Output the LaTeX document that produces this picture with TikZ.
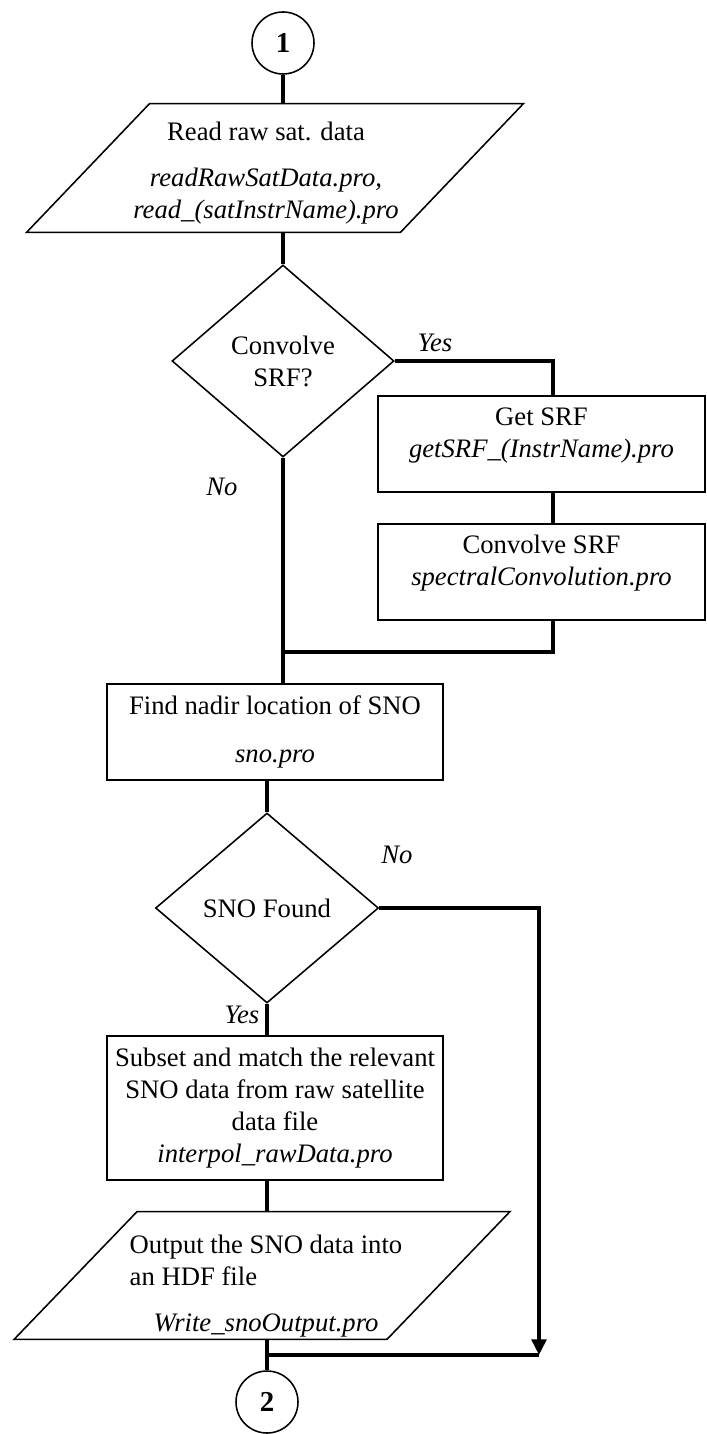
\documentclass[tikz,border=0pt]{standalone}
\usepackage{fontspec}
\setmainfont{Liberation Serif}
\usetikzlibrary{shapes.geometric,arrows.meta}

\begin{document}
\begin{tikzpicture}[x=0.45pt,y=-0.45pt,
        every node/.style={font=\fontsize{12}{14.4}\selectfont},
        conn/.style={draw,line width=1.8pt},
        box/.style={draw,rectangle,line width=0.7pt,align=center},
        iobox/.style={rectangle,inner sep=0pt},
        decide/.style={draw,diamond,aspect=1.17,inner sep=1pt,line width=0.7pt,align=center},
        onpage/.style={draw,circle,minimum size=27.9pt,inner sep=0pt,line width=0.7pt,
            font=\fontsize{13}{15}\selectfont\bfseries},
        lbl/.style={font=\fontsize{12}{14.4}\selectfont\itshape}]
        \useasboundingbox (0,0) rectangle (706,1434);

        \node[onpage] (c1) at (283,43) {1};
        \node[iobox,minimum width=167.85pt,minimum height=57.6pt] (read) at (275,168) {};
        \path[draw,line width=0.7pt] ([xshift=27.7pt]read.north west) -- ([xshift=27.7pt]read.north east)
            -- ([xshift=-27.7pt]read.south east) -- ([xshift=-27.7pt]read.south west) -- cycle;
        \node[align=center] (readtxt) at (266,173) {Read raw sat. data\\[6.5pt]
            \textit{readRawSatData.pro,}\\\textit{read\_(satInstrName).pro}};
        \node[decide,minimum width=99.9pt,minimum height=86.4pt] (conv) at (283,361) {Convolve\\SRF?};
        \node[box,minimum width=147.15pt,minimum height=43.2pt] (getsrf) at (541.5,444)
            {Get SRF\\\textit{getSRF\_(InstrName).pro}\\[-4pt]\mbox{}};
        \node[box,minimum width=147.15pt,minimum height=43.2pt] (cnvsrf) at (541.5,572)
            {Convolve SRF\\\textit{spectralConvolution.pro}\\[-4pt]\mbox{}};
        \node[box,minimum width=151.2pt,minimum height=43.2pt] (find) at (275,732)
            {Find nadir location of SNO\\[7pt]\textit{sno.pro}};
        \node[decide,minimum width=100.35pt,minimum height=85.5pt] (sno) at (267,908) {SNO Found};
        \node[box,minimum width=151.2pt,minimum height=64.8pt] (subset) at (275,1108)
            {Subset and match the relevant\\SNO data from raw satellite\\data file\\\textit{interpol\_rawData.pro}};
        \node[iobox,minimum width=167.4pt,minimum height=57.15pt] (out) at (262,1275.5) {};
        \path[draw,line width=0.7pt] ([xshift=27.7pt]out.north west) -- ([xshift=27.7pt]out.north east)
            -- ([xshift=-27.7pt]out.south east) -- ([xshift=-27.7pt]out.south west) -- cycle;
        \node[align=center] (outtxt) at (266,1284)
            {\begin{tabular}[b]{@{}l@{}}Output the SNO data into\\an HDF file\end{tabular}\\[6.25pt]
            \textit{Write\_snoOutput.pro}};
        \node[onpage] (c2) at (267,1402) {2};

        \coordinate (j1) at (553,361);
        \coordinate (j2) at (283,652);
        \coordinate (j3) at (539,1355);

        \node[lbl] (yes1) at (435,343) {Yes};
        \node[lbl] (no1) at (222,487) {No};
        \node[lbl] (no2) at (397,855) {No};
        \node[lbl] (yes2) at (242,1015) {Yes};

        \path[conn] (c1) -- (c1 |- read.north);
        \path[conn] (conv.north |- read.south) -- (conv.north);
        \path[conn] (conv.east) -- (j1) -- (j1 |- getsrf.north);
        \path[conn] (j1 |- getsrf.south) -- (j1 |- cnvsrf.north);
        \path[conn] (j1 |- cnvsrf.south) -- (j1 |- j2) -- (j2);
        \path[conn] (conv.south) -- (j2) -- (j2 |- find.north);
        \path[conn] (sno.north |- find.south) -- (sno.north);
        \path[conn,-{Triangle[length=7pt,width=6.5pt]}] (sno.east) -| (j3);
        \path[conn] (sno.south) -- (sno.south |- subset.north);
        \path[conn] (sno.south |- subset.south) -- (sno.south |- out.north);
        \path[conn] (c2.north |- out.south) -- (c2);
        \path[conn] (c2.north |- j3) -- (j3);
    \end{tikzpicture}
\end{document}
